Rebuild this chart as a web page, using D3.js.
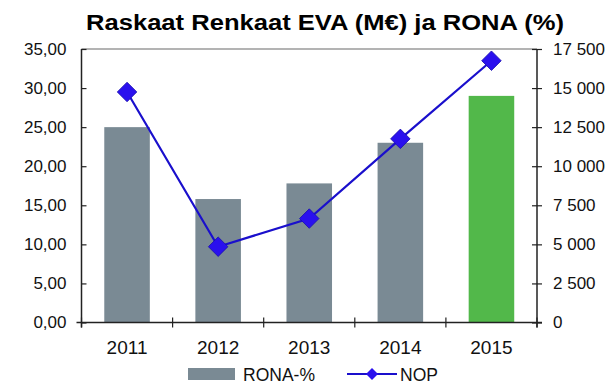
<!DOCTYPE html>
<html>
<head>
<meta charset="utf-8">
<script src="https://cdn.jsdelivr.net/npm/d3@7"></script>
<style>
  html, body { margin: 0; padding: 0; background: #fff; }
  svg { display: block; font-family: "Liberation Sans", Arial, sans-serif; }
</style>
</head>
<body>
<svg id="chart" width="612" height="382"></svg>
<script>
// Years on the category axis
const years = ["2011", "2012", "2013", "2014", "2015"];
// RONA-% (left axis, bars)
const rona = [25.0, 15.8, 17.8, 23.0, 29.0];
// NOP (right axis, line)
const nop = [14750, 4850, 6650, 11750, 16750];
// Tick values for both value axes
const leftTicks = [0, 5, 10, 15, 20, 25, 30, 35];
const rightTicks = [0, 2500, 5000, 7500, 10000, 12500, 15000, 17500];

const svg = d3.select("#chart");
const m = { left: 81.5, right: 537, top: 49, bottom: 322.5 };

const x = d3.scaleBand().domain(years).range([m.left, m.right]).paddingInner(0.5).paddingOuter(0.25);
const yL = d3.scaleLinear().domain([0, 35]).range([m.bottom, m.top]);
const yR = d3.scaleLinear().domain([0, 17500]).range([m.bottom, m.top]);

// Finnish-style number formats: decimal comma, space as thousands separator
const fmtL = v => d3.format(".2f")(v).replace(".", ",");
const fmtR = v => d3.format(",")(v).replace(/,/g, " ");

// Title
svg.append("text")
  .attr("x", 86).attr("y", 30)
  .attr("font-size", 22.5).attr("font-weight", "bold").attr("fill", "#000")
  .attr("textLength", 478).attr("lengthAdjust", "spacingAndGlyphs")
  .text("Raskaat Renkaat EVA (M€) ja RONA (%)");

// Top frame line
svg.append("line")
  .attr("x1", m.left).attr("x2", m.right).attr("y1", m.top).attr("y2", m.top)
  .attr("stroke", "#9a9a9a").attr("stroke-width", 1.5);

// Bars
svg.append("g").selectAll("rect").data(years).join("rect")
  .attr("x", d => x(d))
  .attr("width", x.bandwidth())
  .attr("y", (d, i) => yL(rona[i]))
  .attr("height", (d, i) => yL(0) - yL(rona[i]))
  .attr("fill", (d, i) => i === years.length - 1 ? "#52b84a" : "#7a8a94");

// Left axis
const gL = svg.append("g").attr("transform", `translate(${m.left},0)`)
  .call(d3.axisLeft(yL).tickValues(leftTicks).tickFormat(fmtL).tickSize(5).tickSizeOuter(0).tickPadding(10));
// Right axis (ticks cross the line)
const gR = svg.append("g").attr("transform", `translate(${m.right},0)`)
  .call(d3.axisRight(yR).tickValues(rightTicks).tickFormat(fmtR).tickSize(5).tickSizeOuter(0));
gR.selectAll(".tick line").attr("x1", -5);
gL.selectAll(".tick line").attr("x2", 5);
gR.selectAll(".tick text").attr("x", 16);

// Bottom axis with ticks at category boundaries
const bounds = years.map(d => x(d) - x.step() * x.paddingInner() / 2).concat([m.right]);
const gB = svg.append("g");
gB.append("line").attr("x1", m.left - 5).attr("x2", m.right + 5)
  .attr("y1", m.bottom).attr("y2", m.bottom).attr("stroke", "#222").attr("stroke-width", 1.5);
gB.selectAll("line.t").data(bounds).join("line").attr("class", "t")
  .attr("x1", d => d).attr("x2", d => d).attr("y1", m.bottom - 5).attr("y2", m.bottom + 5)
  .attr("stroke", "#222").attr("stroke-width", 1.2);
gB.selectAll("text").data(years).join("text")
  .attr("x", d => x(d) + x.bandwidth() / 2).attr("y", m.bottom + 31)
  .attr("text-anchor", "middle").attr("font-size", 19).attr("fill", "#111")
  .text(d => d);

[gL, gR].forEach(g => {
  g.select(".domain").attr("stroke", "#222").attr("stroke-width", 1.5);
  g.selectAll(".tick line").attr("stroke", "#222").attr("stroke-width", 1.2);
  g.selectAll(".tick text").attr("font-size", 17).attr("fill", "#111")
    .attr("font-family", "\"Liberation Sans\", Arial, sans-serif");
});
gL.select(".domain").attr("d", `M0,${m.top}V${m.bottom + 5}`);
gR.select(".domain").attr("d", `M0,${m.top}V${m.bottom + 5}`);

// NOP line with diamond markers
const cx = d => x(d) + x.bandwidth() / 2;
const line = d3.line().x((d, i) => cx(years[i])).y(d => yR(d));
svg.append("path").datum(nop).attr("d", line)
  .attr("fill", "none").attr("stroke", "#1a0fcc").attr("stroke-width", 2.2);
svg.append("g").selectAll("path").data(nop).join("path")
  .attr("transform", (d, i) => `translate(${cx(years[i])},${yR(d)}) rotate(45)`)
  .attr("d", d3.symbol().type(d3.symbolSquare).size(190))
  .attr("fill", "#2a10ee").attr("stroke", "#1a0fb0").attr("stroke-width", 0.8);

// Legend
const lg = svg.append("g");
lg.append("rect").attr("x", 188).attr("y", 368).attr("width", 47).attr("height", 12).attr("fill", "#7a8a94");
lg.append("text").attr("x", 243).attr("y", 381).attr("font-size", 17.5).attr("fill", "#111").text("RONA-%");
lg.append("line").attr("x1", 347).attr("x2", 397).attr("y1", 374).attr("y2", 374)
  .attr("stroke", "#1a0fcc").attr("stroke-width", 2.2);
lg.append("path").attr("transform", "translate(372,374) rotate(45)")
  .attr("d", d3.symbol().type(d3.symbolSquare).size(72)).attr("fill", "#2a10ee");
lg.append("text").attr("x", 400).attr("y", 381).attr("font-size", 17.5).attr("fill", "#111").text("NOP");
</script>
</body>
</html>
